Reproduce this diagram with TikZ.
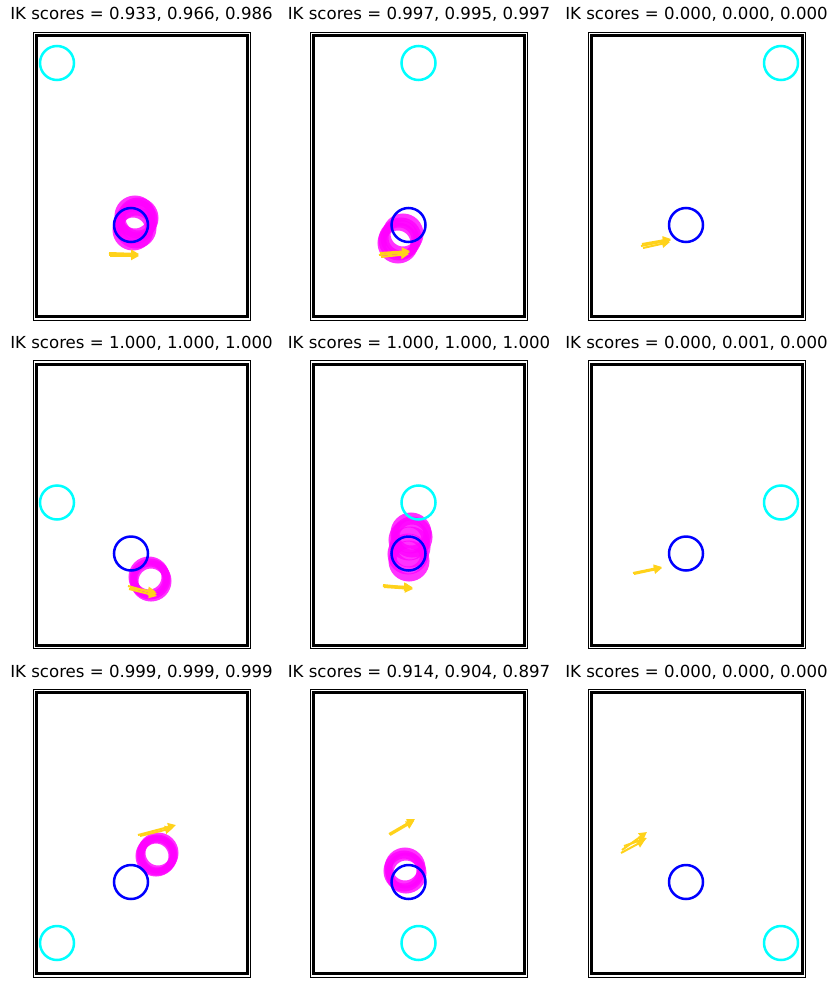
\documentclass[tikz,border=0pt]{standalone}
\usepackage{fontspec}
\setmainfont{DejaVu Sans}
\usetikzlibrary{arrows.meta}
\definecolor{ikcyan}{HTML}{00FFFF}
\definecolor{ikblue}{HTML}{0000FF}
\definecolor{ikmagenta}{HTML}{FF00FF}
\definecolor{ikgold}{HTML}{FFD21A}

\begin{document}
\begin{tikzpicture}[
  x=1pt, y=-1pt,
  every node/.style={font=\fontsize{16.6}{19}\selectfont},
  outerframe/.style={draw=black, line width=0.8pt},
  innerframe/.style={draw=black, line width=3pt},
  goalring/.style={circle, draw=ikcyan, line width=2.5pt, minimum size=34pt, inner sep=0pt},
  basering/.style={circle, draw=ikblue, line width=2.5pt, minimum size=34pt, inner sep=0pt},
  reachring/.style={draw=ikmagenta, line width=8pt, opacity=0.8},
  pusharrow/.style={-{Triangle[length=8pt, width=8pt]}, draw=ikgold, line width=2pt},
]
\useasboundingbox (0,0) rectangle (837,990);

% reached positions
\foreach \px/\py in {135/216, 137/220, 134/224, 136/228, 133/230, 138/218,
                     398/243, 401/238, 403/234, 399/240,
                     150/579, 151/581, 149/577,
                     411/533, 409/540, 410/547, 408/554, 409/561, 412/537,
                     156/856, 158/853, 157/855,
                     405/868, 406/873, 404/871}
  \draw[reachring] (\px,\py) circle[radius=16.5];

% panels
\foreach \c/\r/\gx/\gy/\scores in {
  0/0/24/31/{0.933, 0.966, 0.986},
  1/0/108/31/{0.997, 0.995, 0.997},
  2/0/193/31/{0.000, 0.000, 0.000},
  0/1/24/142/{1.000, 1.000, 1.000},
  1/1/108/142/{1.000, 1.000, 1.000},
  2/1/193/142/{0.000, 0.001, 0.000},
  0/2/24/254/{0.999, 0.999, 0.999},
  1/2/108/254/{0.914, 0.904, 0.897},
  2/2/193/254/{0.000, 0.000, 0.000}}
{
  \pgfmathsetmacro{\ox}{33+277.5*\c}
  \pgfmathsetmacro{\oy}{32+328.5*\r}
  \draw[outerframe] (\ox,\oy) rectangle ++(217,288);
  \draw[innerframe] (\ox+3,\oy+3.5) rectangle ++(211,281);
  \node[goalring] (goal\c\r) at (\ox+\gx,\oy+\gy) {};
  \node[basering] (base\c\r) at (\ox+98,\oy+193) {};
  \node[anchor=base] (title\c\r) at (\ox+108.5,\oy-12) {IK scores = \scores};
}

% push directions
\foreach \ax/\ay/\bx/\by in {109/253/139/254, 109/255/139/255, 110/256/139/256,
                             379/255/410/252, 380/253/410/251, 381/257/409/254,
                             641/246/671/240, 642/244/671/239, 643/248/670/242,
                             128/586/157/594, 129/589/157/596, 130/588/156/592,
                             383/585/413/588, 384/587/413/589, 383/586/412/587,
                             633/573/662/567, 634/574/662/568,
                             138/835/176/825, 140/836/173/828,
                             389/834/415/819, 390/835/414/821,
                             622/850/647/832, 624/846/647/838, 621/853/645/840}
  \draw[pusharrow] (\ax,\ay) -- (\bx,\by);

\end{tikzpicture}
\end{document}
